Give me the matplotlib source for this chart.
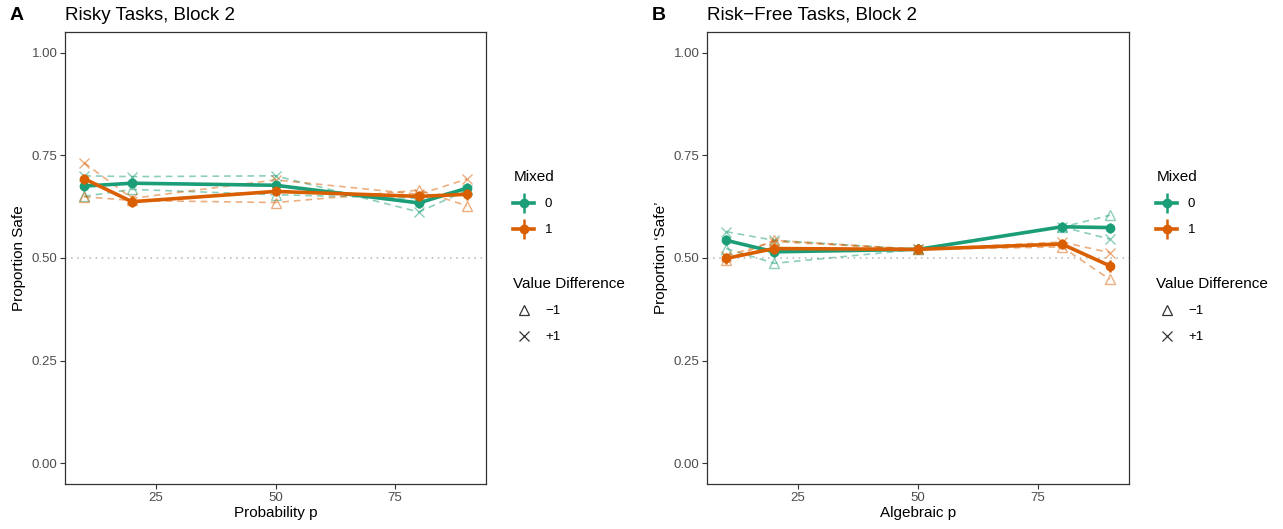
import matplotlib
matplotlib.use("Agg")
import matplotlib.pyplot as plt
from matplotlib.lines import Line2D
from matplotlib.legend_handler import HandlerTuple
import numpy as np

plt.rcParams['font.family'] = ['Liberation Sans', 'DejaVu Sans']

x_vals = [10, 20, 50, 80, 90]

# Panel A: Risky tasks
a_mixed0 = [0.675, 0.682, 0.677, 0.634, 0.670]
a_mixed1 = [0.693, 0.637, 0.662, 0.650, 0.655]
a_mixed0_err = [0.012, 0.012, 0.010, 0.012, 0.012]
a_mixed1_err = [0.012, 0.014, 0.012, 0.012, 0.014]
a_m0_neg = [0.650, 0.667, 0.654, 0.645, 0.668]
a_m0_pos = [0.700, 0.698, 0.700, 0.612, 0.665]
a_m1_neg = [0.649, 0.640, 0.635, 0.665, 0.627]
a_m1_pos = [0.732, 0.645, 0.690, 0.655, 0.692]

# Panel B: Risk-free tasks
b_mixed0 = [0.543, 0.515, 0.521, 0.576, 0.574]
b_mixed1 = [0.499, 0.523, 0.521, 0.534, 0.481]
b_mixed0_err = [0.012, 0.012, 0.012, 0.012, 0.012]
b_mixed1_err = [0.014, 0.014, 0.012, 0.012, 0.014]
b_m0_neg = [0.523, 0.487, 0.521, 0.575, 0.604]
b_m0_pos = [0.564, 0.543, 0.521, 0.576, 0.546]
b_m1_neg = [0.495, 0.543, 0.521, 0.527, 0.448]
b_m1_pos = [0.505, 0.540, 0.521, 0.539, 0.513]

green = '#1B9E77'
orange = '#D95F02'

W, H = 1283, 529
fig = plt.figure(figsize=(W / 100, H / 100), dpi=100)

def make_ax(left, right, top, bottom):
    return fig.add_axes([left / W, 1 - bottom / H, (right - left) / W, (bottom - top) / H])

def panel(ax, m0, m1, e0, e1, m0n, m0p, m1n, m1p, xlabel, ylabel, letter, title, lx):
    ax.axhline(0.5, color='#B3B3B3', linestyle=(0, (1, 3)), lw=1.1, zorder=1)
    dash = (0, (4, 3))
    ax.plot(x_vals, m0n, ls=dash, color=green, alpha=0.5, lw=1.2, marker='^',
            mfc='none', ms=7.5, mew=1.0, zorder=2)
    ax.plot(x_vals, m0p, ls=dash, color=green, alpha=0.5, lw=1.2, marker='x',
            ms=7.5, mew=1.0, zorder=2)
    ax.plot(x_vals, m1n, ls=dash, color=orange, alpha=0.5, lw=1.2, marker='^',
            mfc='none', ms=7.5, mew=1.0, zorder=2)
    ax.plot(x_vals, m1p, ls=dash, color=orange, alpha=0.5, lw=1.2, marker='x',
            ms=7.5, mew=1.0, zorder=2)
    ax.errorbar(x_vals, m0, yerr=e0, color=green, lw=2.6, marker='o', ms=6,
                elinewidth=1.8, capsize=0, zorder=3)
    ax.errorbar(x_vals, m1, yerr=e1, color=orange, lw=2.6, marker='o', ms=6,
                elinewidth=1.8, capsize=0, zorder=4)
    ax.set_xlim(6, 94)
    ax.set_ylim(-0.05, 1.05)
    ax.set_xticks([25, 50, 75])
    ax.set_yticks([0, 0.25, 0.5, 0.75, 1.0])
    ax.set_yticklabels(['0.00', '0.25', '0.50', '0.75', '1.00'])
    ax.tick_params(axis='both', labelsize=9.5, labelcolor='#4D4D4D', color='#333333',
                   length=3.5, width=0.8, pad=2)
    for s in ax.spines.values():
        s.set_color('#333333')
        s.set_linewidth(0.9)
    ax.set_xlabel(xlabel, fontsize=11, color='black', labelpad=2)
    ax.set_ylabel(ylabel, fontsize=11, color='black', labelpad=4)
    pos = ax.get_position()
    fig.text(pos.x0 - 55 / W, 1 - 15 / H, letter, fontsize=14, fontweight='bold',
             va='center', ha='left')
    fig.text(pos.x0, 1 - 15 / H, title, fontsize=13.5, va='center', ha='left')
    # legends
    def mh(col):
        return (Line2D([0], [0], color=col, lw=2.6, marker='o', ms=6),
                Line2D([0], [0], color=col, lw=0, marker='|', ms=14, mew=1.8))
    leg1 = ax.legend([mh(green), mh(orange)], ['0', '1'], title='Mixed', loc='upper left',
                     bbox_to_anchor=(lx / W, 1 - 165 / H), bbox_transform=fig.transFigure,
                     frameon=False, fontsize=9.5, title_fontsize=11, handlelength=1.6,
                     handletextpad=0.8, labelspacing=1.05, borderaxespad=0,
                     handler_map={tuple: HandlerTuple(ndivide=1, pad=0)})
    leg1._legend_box.align = 'left'
    ax.add_artist(leg1)
    h_n = Line2D([0], [0], color='#333333', lw=0, marker='^', mfc='none', ms=7, mew=0.9)
    h_p = Line2D([0], [0], color='#333333', lw=0, marker='x', ms=7, mew=0.9)
    leg2 = ax.legend([h_n, h_p], ['\u22121', '+1'], title='Value Difference',
                     loc='upper left', bbox_to_anchor=(lx / W, 1 - 272 / H),
                     bbox_transform=fig.transFigure, frameon=False, fontsize=9.5,
                     title_fontsize=11, handlelength=1.6, handletextpad=0.8,
                     labelspacing=1.05, borderaxespad=0)
    leg2._legend_box.align = 'left'

axA = make_ax(65, 486, 32, 484)
panel(axA, a_mixed0, a_mixed1, a_mixed0_err, a_mixed1_err, a_m0_neg, a_m0_pos,
      a_m1_neg, a_m1_pos, 'Probability p', 'Proportion Safe', 'A',
      'Risky Tasks, Block 2', 508)
axB = make_ax(707, 1129, 32, 484)
panel(axB, b_mixed0, b_mixed1, b_mixed0_err, b_mixed1_err, b_m0_neg, b_m0_pos,
      b_m1_neg, b_m1_pos, 'Algebraic p', 'Proportion \u2018Safe\u2019', 'B',
      'Risk\u2212Free Tasks, Block 2', 1151)

fig.savefig('out.png', dpi=100)
